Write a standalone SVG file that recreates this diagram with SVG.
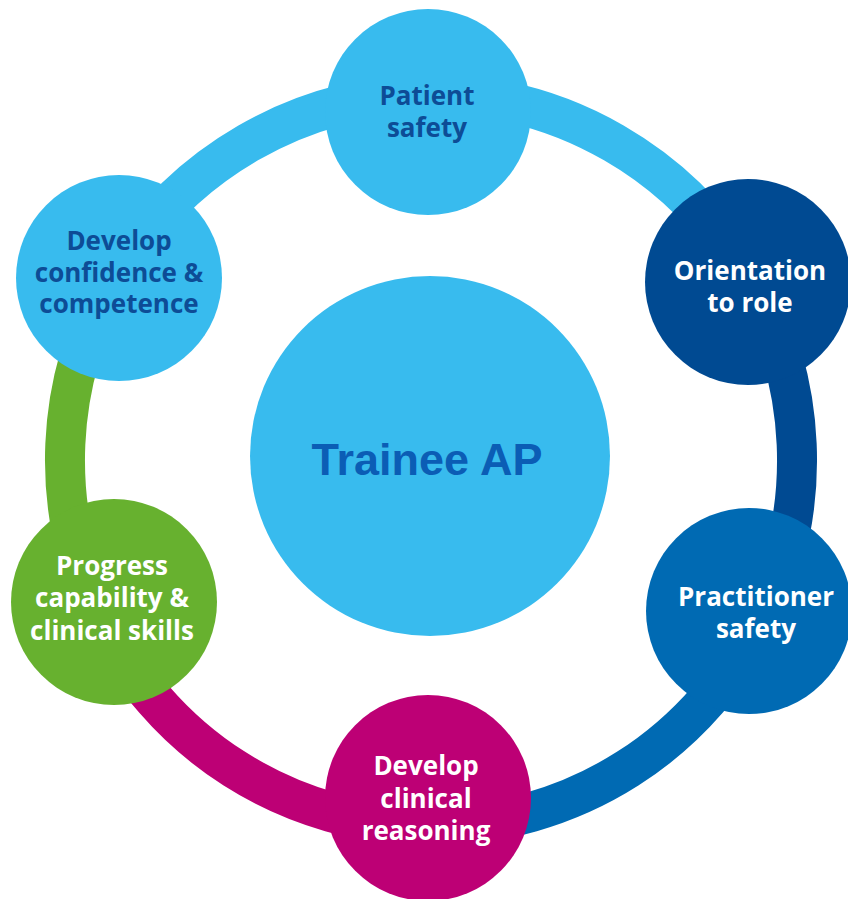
<svg xmlns="http://www.w3.org/2000/svg" width="848" height="899" viewBox="0 0 848 899">
<style>
.seg{fill:none;stroke-width:40}
.lb{fill:#38BBEE}
.t{font-family:"Open Sans","Liberation Sans",sans-serif;font-weight:700;font-size:26px;text-anchor:middle}
.dk{fill:#0D4C96}
.wh{fill:#FFFFFF}
.ctr{font-family:"Liberation Sans",Arial,sans-serif;font-weight:700;font-size:45px;text-anchor:middle;fill:#0B5DB5}
</style>
<rect width="848" height="899" fill="#FFFFFF"/>
<g id="connectors">
<path class="seg" stroke="#38BBEE" d="M431,94 A366,366 0 0 1 748,277"/>
<path class="seg" stroke="#004A92" d="M748,277 A366,366 0 0 1 762.7,614.7"/>
<path class="seg" stroke="#006AB3" d="M762.7,614.7 A366,366 0 0 1 431,826"/>
<path class="seg" stroke="#BD0075" d="M431,826 A366,366 0 0 1 99.3,614.7"/>
<path class="seg" stroke="#67B12F" d="M99.3,614.7 A366,366 0 0 1 114,277"/>
<path class="seg" stroke="#38BBEE" d="M114,277 A366,366 0 0 1 431,94"/>
</g>
<g id="center">
<circle class="lb" cx="430" cy="456" r="180"/>
<text class="ctr" x="427" y="475">Trainee AP</text>
</g>
<g id="patient-safety">
<circle class="lb" cx="428" cy="112" r="103"/>
<text class="t dk" x="427" y="105">Patient</text>
<text class="t dk" x="427" y="137">safety</text>
</g>
<g id="orientation">
<circle fill="#004A92" cx="748" cy="282" r="103"/>
<text class="t wh" x="750" y="280">Orientation</text>
<text class="t wh" x="750" y="312">to role</text>
</g>
<g id="practitioner-safety">
<circle fill="#006AB3" cx="749" cy="611" r="103"/>
<text class="t wh" x="756" y="606">Practitioner</text>
<text class="t wh" x="756" y="638">safety</text>
</g>
<g id="clinical-reasoning">
<circle fill="#BD0075" cx="428" cy="798" r="103"/>
<text class="t wh" x="426" y="775">Develop</text>
<text class="t wh" x="426" y="808">clinical</text>
<text class="t wh" x="426" y="840">reasoning</text>
</g>
<g id="progress">
<circle fill="#67B12F" cx="114" cy="602" r="103"/>
<text class="t wh" x="112" y="575">Progress</text>
<text class="t wh" x="112" y="607">capability &amp;</text>
<text class="t wh" x="112" y="640">clinical skills</text>
</g>
<g id="confidence">
<circle class="lb" cx="119" cy="278" r="103"/>
<text class="t dk" x="119" y="250">Develop</text>
<text class="t dk" x="119" y="282">confidence &amp;</text>
<text class="t dk" x="119" y="313">competence</text>
</g>
</svg>
